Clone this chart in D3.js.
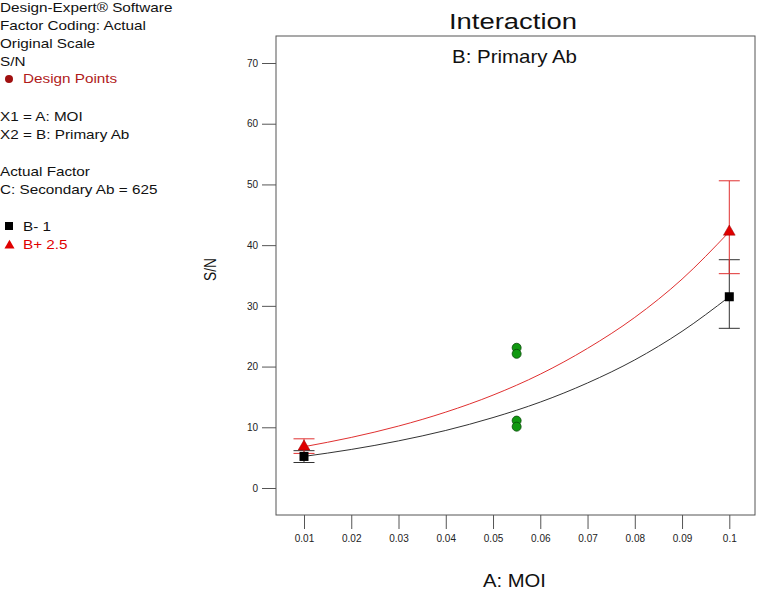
<!DOCTYPE html>
<html><head><meta charset="utf-8">
<script src="https://cdn.jsdelivr.net/npm/d3@7"></script>
<style>body{margin:0;background:#fff}svg{display:block;font-family:"Liberation Sans",Arial,sans-serif}</style>
</head><body><svg id="c" width="757" height="591"></svg>
<script>
// ---- data ----
const infoLines = ["Design-Expert\u00AE Software","Factor Coding: Actual","Original Scale","S/N"];
const factorLines = ["X1 = A: MOI","X2 = B: Primary Ab"];
const actualLines = ["Actual Factor","C: Secondary Ab = 625"];
const legendLabels = ["Design Points","B- 1","B+ 2.5"];
const xTicks = [0.01,0.02,0.03,0.04,0.05,0.06,0.07,0.08,0.09,0.1];
const yTicks = [0,10,20,30,40,50,60,70];
const curveX = [0.01,0.02,0.03,0.04,0.05,0.06,0.07,0.08,0.09,0.1];
const lowCurve = [5.2,6.35,7.76,9.48,11.6,14.15,17.3,21.1,25.8,31.5];   // B- 1
const highCurve = [6.8,8.33,10.2,12.5,15.3,18.75,23.0,28.1,34.4,42.2]; // B+ 2.5
const lowPoints = [{x:0.01,y:5.2,lo:4.2,hi:6.15},{x:0.1,y:31.5,lo:26.3,hi:37.6}];
const highPoints = [{x:0.01,y:6.8,lo:5.7,hi:8.1},{x:0.1,y:42.2,lo:35.3,hi:50.6}];
const designX = [0.055,0.055,0.055,0.055];
const designY = [23.1,22.1,11.1,10.1];

const svg = d3.select("#c");
const frame = {l:276,t:36,r:755,b:515};
const x = d3.scaleLinear().domain([0.01,0.1]).range([304,729.3]);
const y = d3.scaleLinear().domain([0,70]).range([488,63]);

// left info text (horizontally stretched like the original renderer)
const fs = 13, sx = 1.175;
const info = svg.append("g").attr("transform",`scale(${sx},1)`);
function ltext(t,xx,yy,col){ info.append("text").attr("x",xx/sx).attr("y",yy).attr("font-size",fs).attr("fill",col).text(t); }
infoLines.forEach((t,i)=>ltext(t,0,11.5+i*18.1,"#111"));
factorLines.forEach((t,i)=>ltext(t,0,121+i*18.3,"#111"));
actualLines.forEach((t,i)=>ltext(t,0,176+i*18.3,"#111"));
svg.append("circle").attr("cx",9).attr("cy",79).attr("r",4).attr("fill","#a01010");
ltext(legendLabels[0],23,83.3,"#b01a1a");
svg.append("rect").attr("x",5).attr("y",222).attr("width",8).attr("height",8).attr("fill","#000");
ltext(legendLabels[1],23,230.7,"#111");
svg.append("path").attr("d",d3.symbol(d3.symbolTriangle,44)()).attr("transform","translate(9.5,245.5)").attr("fill","#e00000");
ltext(legendLabels[2],23,249,"#e00000");

// titles
svg.append("text").attr("x",513).attr("y",29).attr("text-anchor","middle").attr("font-size",22.5).attr("fill","#111")
  .attr("textLength",128).attr("lengthAdjust","spacingAndGlyphs").text("Interaction");
svg.append("text").attr("x",514.5).attr("y",62.5).attr("text-anchor","middle").attr("font-size",18.5).attr("fill","#111")
  .attr("textLength",125).attr("lengthAdjust","spacingAndGlyphs").text("B: Primary Ab");
svg.append("text").attr("transform","translate(216,269.5) rotate(-90)").attr("text-anchor","middle").attr("font-size",17).attr("fill","#111")
  .attr("textLength",23).attr("lengthAdjust","spacingAndGlyphs").text("S/N");
svg.append("text").attr("x",514.5).attr("y",587).attr("text-anchor","middle").attr("font-size",19).attr("fill","#111")
  .attr("textLength",63).attr("lengthAdjust","spacingAndGlyphs").text("A: MOI");

// frame
svg.append("rect").attr("x",frame.l).attr("y",frame.t).attr("width",frame.r-frame.l).attr("height",frame.b-frame.t)
  .attr("fill","none").attr("stroke","#555").attr("stroke-width",1);

// axes
const yAxis = d3.axisLeft(y).tickValues(yTicks).tickSize(14).tickPadding(4).tickFormat(d3.format("d"));
const gy = svg.append("g").attr("transform",`translate(${frame.l},0)`).call(yAxis);
gy.select(".domain").remove();
gy.selectAll("line").attr("stroke","#555");
gy.selectAll("text").attr("font-size",10).attr("fill","#222").attr("font-family",'"Liberation Sans",Arial,sans-serif');

const xAxis = d3.axisBottom(x).tickValues(xTicks).tickSize(14).tickPadding(6).tickFormat(d=>String(+d.toFixed(2)));
const gx = svg.append("g").attr("transform",`translate(0,${frame.b})`).call(xAxis);
gx.select(".domain").remove();
gx.selectAll("line").attr("stroke","#555");
gx.selectAll("text").attr("font-size",10).attr("fill","#222").attr("font-family",'"Liberation Sans",Arial,sans-serif');

// curves
const line = d3.line().x((d,i)=>x(curveX[i])).y(d=>y(d)).curve(d3.curveMonotoneX);
svg.append("path").attr("d",line(lowCurve)).attr("fill","none").attr("stroke","#333").attr("stroke-width",1);
svg.append("path").attr("d",line(highCurve)).attr("fill","none").attr("stroke","#e03030").attr("stroke-width",1);

// error bars
function errBars(pts,color){
  pts.forEach(p=>{
    const g = svg.append("g").attr("stroke",color).attr("stroke-width",1);
    g.append("line").attr("x1",x(p.x)).attr("x2",x(p.x)).attr("y1",y(p.lo)).attr("y2",y(p.hi));
    [p.lo,p.hi].forEach(v=>g.append("line").attr("x1",x(p.x)-10.5).attr("x2",x(p.x)+10.5).attr("y1",y(v)).attr("y2",y(v)));
  });
}
errBars(lowPoints,"#333");
errBars(highPoints,"#e03030");

// markers
lowPoints.forEach(p=>svg.append("rect").attr("x",x(p.x)-4.5).attr("y",y(p.y)-4.5).attr("width",9).attr("height",9).attr("fill","#000"));
highPoints.forEach(p=>svg.append("path").attr("d",d3.symbol(d3.symbolTriangle,60)()).attr("transform",`translate(${x(p.x)},${y(p.y)})`).attr("fill","#e00000").attr("stroke","#900").attr("stroke-width",0.5));

// design points
designX.forEach((dx,i)=>svg.append("circle").attr("cx",x(dx)).attr("cy",y(designY[i])).attr("r",4.5)
  .attr("fill","#119911").attr("stroke","#0a4a0a").attr("stroke-width",0.8));
</script></body></html>
